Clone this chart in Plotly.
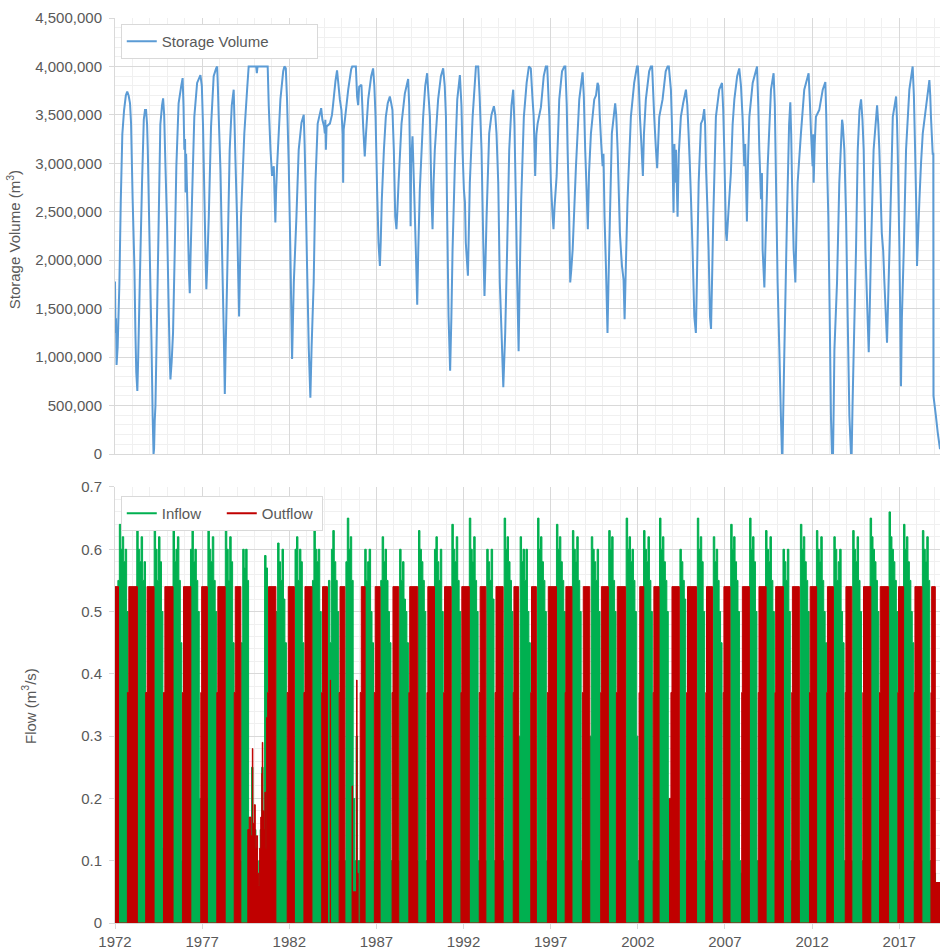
import datetime as dt
import pandas as pd
import plotly.graph_objects as go

# ---------------- data ----------------
# storage volume key points: (decimal year, million m3)
storage_points = [
    (1972.00, 1.78), (1972.03, 1.25), (1972.06, 1.40), (1972.09, 0.92), (1972.15, 1.10), (1972.25, 1.75),
    (1972.33, 2.60), (1972.42, 3.30), (1972.52, 3.55), (1972.62, 3.70), (1972.70, 3.74), (1972.78, 3.70),
    (1972.86, 3.62), (1972.92, 3.41), (1973.01, 2.63), (1973.11, 1.94), (1973.17, 1.25), (1973.22, 0.84),
    (1973.28, 0.65), (1973.33, 1.00), (1973.42, 1.77), (1973.55, 2.80), (1973.65, 3.45), (1973.72, 3.55),
    (1973.78, 3.55), (1973.84, 3.40), (1973.88, 3.14), (1973.99, 2.11), (1974.09, 1.18), (1974.16, 0.39),
    (1974.21, 0.00), (1974.24, 0.05), (1974.28, 0.35), (1974.32, 0.50), (1974.41, 1.42), (1974.51, 2.45),
    (1974.60, 3.40), (1974.70, 3.60), (1974.76, 3.67), (1974.82, 3.50), (1974.89, 3.00), (1974.99, 2.35),
    (1975.08, 1.49), (1975.14, 1.00), (1975.18, 0.77), (1975.25, 0.95), (1975.33, 1.25), (1975.43, 2.11),
    (1975.52, 2.97), (1975.65, 3.62), (1975.80, 3.80), (1975.88, 3.88), (1975.93, 3.60), (1975.98, 3.14),
    (1976.02, 3.25), (1976.05, 2.70), (1976.08, 3.10), (1976.17, 2.45), (1976.24, 1.90), (1976.29, 1.66),
    (1976.33, 2.00), (1976.42, 2.63), (1976.55, 3.48), (1976.71, 3.83), (1976.90, 3.91), (1976.98, 3.80),
    (1977.05, 3.38), (1977.13, 2.63), (1977.20, 2.00), (1977.24, 1.70), (1977.30, 2.00), (1977.38, 2.45),
    (1977.51, 3.38), (1977.66, 3.90), (1977.80, 3.98), (1977.86, 4.00), (1977.90, 3.80), (1977.95, 3.48),
    (1978.05, 2.93), (1978.14, 2.11), (1978.24, 1.25), (1978.30, 0.62), (1978.35, 1.10), (1978.43, 1.77),
    (1978.58, 3.14), (1978.70, 3.60), (1978.81, 3.76), (1978.86, 3.40), (1978.91, 3.04), (1979.00, 2.45),
    (1979.08, 1.77), (1979.12, 1.42), (1979.17, 1.90), (1979.23, 2.45), (1979.42, 3.31), (1979.58, 3.76),
    (1979.67, 4.00), (1980.10, 4.00), (1980.14, 3.93), (1980.18, 4.00), (1980.76, 4.00), (1980.82, 3.60),
    (1980.92, 3.14), (1981.01, 2.87), (1981.11, 2.97), (1981.15, 2.70), (1981.20, 2.39), (1981.24, 2.70),
    (1981.30, 2.97), (1981.49, 3.66), (1981.65, 3.95), (1981.72, 4.00), (1981.80, 3.98), (1981.87, 3.66),
    (1981.97, 2.97), (1982.06, 2.11), (1982.12, 1.42), (1982.16, 0.98), (1982.20, 1.30), (1982.26, 1.77),
    (1982.41, 2.45), (1982.54, 3.14), (1982.70, 3.42), (1982.83, 3.50), (1982.88, 3.20), (1982.93, 2.80),
    (1983.02, 1.94), (1983.12, 1.08), (1983.21, 0.58), (1983.28, 1.10), (1983.40, 1.77), (1983.50, 2.80),
    (1983.63, 3.41), (1983.83, 3.57), (1983.90, 3.45), (1984.00, 3.38), (1984.04, 3.31), (1984.07, 3.45),
    (1984.10, 3.14), (1984.14, 3.38), (1984.33, 3.41), (1984.45, 3.50), (1984.52, 3.62), (1984.65, 3.85),
    (1984.74, 3.96), (1984.80, 3.85), (1984.90, 3.66), (1984.99, 3.55), (1985.06, 3.30), (1985.09, 2.80),
    (1985.12, 3.35), (1985.19, 3.45), (1985.38, 3.76), (1985.55, 3.97), (1985.61, 4.00), (1985.82, 4.00),
    (1985.89, 3.69), (1985.95, 3.60), (1986.01, 3.79), (1986.14, 3.81), (1986.24, 3.38), (1986.33, 3.07),
    (1986.40, 3.30), (1986.53, 3.66), (1986.70, 3.90), (1986.81, 3.98), (1986.88, 3.80), (1986.95, 3.48),
    (1987.04, 2.73), (1987.12, 2.18), (1987.20, 1.94), (1987.25, 2.20), (1987.31, 2.63), (1987.43, 3.14),
    (1987.54, 3.48), (1987.65, 3.62), (1987.77, 3.69), (1987.85, 3.62), (1987.92, 3.55), (1988.00, 3.14),
    (1988.08, 2.45), (1988.15, 2.32), (1988.20, 2.50), (1988.27, 2.80), (1988.44, 3.41), (1988.63, 3.72),
    (1988.82, 3.87), (1988.88, 3.60), (1988.92, 3.14), (1988.96, 2.35), (1988.99, 3.00), (1989.07, 3.28),
    (1989.15, 2.80), (1989.26, 2.11), (1989.34, 1.54), (1989.40, 2.10), (1989.49, 2.73), (1989.68, 3.48),
    (1989.80, 3.80), (1989.91, 3.93), (1989.97, 3.75), (1990.07, 3.48), (1990.16, 2.63), (1990.22, 2.32),
    (1990.28, 2.80), (1990.35, 3.14), (1990.54, 3.66), (1990.70, 3.90), (1990.83, 3.98), (1990.92, 3.80),
    (1990.99, 3.48), (1991.06, 2.45), (1991.14, 1.42), (1991.23, 0.86), (1991.30, 1.40), (1991.37, 2.11),
    (1991.50, 2.97), (1991.64, 3.66), (1991.79, 3.91), (1991.88, 3.60), (1991.94, 3.14), (1992.02, 2.73),
    (1992.08, 2.60), (1992.13, 2.18), (1992.25, 1.84), (1992.36, 2.80), (1992.52, 3.48), (1992.71, 4.00),
    (1992.84, 4.00), (1992.92, 3.70), (1993.03, 3.14), (1993.13, 2.18), (1993.20, 1.63), (1993.26, 2.00),
    (1993.32, 2.45), (1993.47, 3.31), (1993.60, 3.50), (1993.74, 3.59), (1993.82, 3.50), (1993.89, 3.31),
    (1993.99, 2.80), (1994.08, 1.77), (1994.18, 1.25), (1994.28, 0.69), (1994.39, 1.25), (1994.50, 2.11),
    (1994.62, 3.14), (1994.75, 3.60), (1994.85, 3.76), (1994.92, 3.40), (1995.00, 2.63), (1995.08, 1.77),
    (1995.16, 1.06), (1995.22, 1.80), (1995.31, 2.63), (1995.46, 3.48), (1995.62, 3.83), (1995.75, 4.00),
    (1995.86, 3.98), (1995.96, 3.66), (1996.02, 3.50), (1996.05, 3.31), (1996.08, 3.10), (1996.11, 2.87),
    (1996.18, 3.30), (1996.25, 3.41), (1996.44, 3.58), (1996.60, 3.90), (1996.72, 4.00), (1996.80, 4.00),
    (1996.92, 3.48), (1997.01, 2.80), (1997.11, 2.45), (1997.16, 2.32), (1997.22, 2.55), (1997.34, 2.87),
    (1997.49, 3.66), (1997.65, 3.95), (1997.78, 4.00), (1997.84, 4.00), (1997.92, 3.60), (1997.97, 3.14),
    (1998.06, 2.45), (1998.12, 1.77), (1998.18, 1.90), (1998.26, 2.11), (1998.45, 2.97), (1998.64, 3.66),
    (1998.83, 3.94), (1998.90, 3.70), (1998.98, 3.14), (1999.06, 2.73), (1999.13, 2.32), (1999.20, 2.90),
    (1999.31, 3.31), (1999.50, 3.66), (1999.60, 3.70), (1999.69, 3.83), (1999.75, 3.80), (1999.82, 3.48),
    (1999.90, 3.20), (1999.98, 2.97), (2000.03, 3.10), (2000.09, 2.45), (2000.17, 1.94), (2000.26, 1.25),
    (2000.32, 1.80), (2000.40, 2.45), (2000.51, 3.31), (2000.70, 3.62), (2000.76, 3.50), (2000.84, 3.14),
    (2000.97, 2.28), (2001.03, 2.10), (2001.09, 1.94), (2001.18, 1.80), (2001.24, 1.39), (2001.32, 2.00),
    (2001.41, 2.63), (2001.60, 3.48), (2001.79, 3.83), (2001.95, 4.00), (2002.00, 4.00), (2002.06, 3.80),
    (2002.12, 3.48), (2002.20, 3.21), (2002.29, 2.87), (2002.35, 3.30), (2002.46, 3.66), (2002.65, 3.95),
    (2002.75, 4.00), (2002.82, 4.00), (2002.94, 3.48), (2003.04, 3.14), (2003.11, 2.95), (2003.23, 3.48),
    (2003.42, 3.66), (2003.60, 3.95), (2003.71, 4.00), (2003.78, 4.00), (2003.90, 3.76), (2003.96, 3.40),
    (2004.00, 2.97), (2004.05, 2.49), (2004.10, 3.20), (2004.15, 2.80), (2004.19, 3.14), (2004.28, 2.45),
    (2004.35, 3.10), (2004.47, 3.48), (2004.60, 3.62), (2004.76, 3.76), (2004.84, 3.60), (2004.91, 3.31),
    (2004.98, 3.00), (2005.05, 2.63), (2005.14, 2.11), (2005.24, 1.42), (2005.33, 1.25), (2005.40, 1.90),
    (2005.49, 2.80), (2005.62, 3.41), (2005.72, 3.45), (2005.81, 3.56), (2005.86, 3.40), (2005.91, 2.97),
    (2005.98, 2.60), (2006.06, 2.11), (2006.14, 1.42), (2006.20, 1.29), (2006.26, 1.80), (2006.33, 2.45),
    (2006.48, 3.48), (2006.67, 3.76), (2006.83, 3.83), (2006.90, 3.55), (2006.96, 3.14), (2007.02, 2.60),
    (2007.06, 2.28), (2007.10, 2.20), (2007.20, 2.50), (2007.34, 2.90), (2007.44, 3.40), (2007.54, 3.66),
    (2007.70, 3.90), (2007.82, 3.98), (2007.92, 3.80), (2008.01, 3.48), (2008.11, 2.97), (2008.16, 3.20),
    (2008.21, 2.80), (2008.26, 2.40), (2008.32, 3.00), (2008.40, 3.48), (2008.59, 3.83), (2008.84, 4.00),
    (2008.91, 3.60), (2008.97, 3.14), (2009.07, 2.63), (2009.12, 2.90), (2009.16, 2.11), (2009.26, 1.72),
    (2009.33, 2.20), (2009.45, 2.97), (2009.64, 3.76), (2009.79, 3.93), (2009.86, 3.60), (2009.93, 2.80),
    (2010.02, 1.77), (2010.12, 1.08), (2010.21, 0.39), (2010.27, 0.00), (2010.30, 0.00), (2010.34, 0.40),
    (2010.41, 1.08), (2010.56, 2.45), (2010.68, 3.40), (2010.75, 3.63), (2010.80, 3.30), (2010.85, 2.80),
    (2010.94, 2.11), (2011.04, 1.77), (2011.10, 2.30), (2011.17, 2.80), (2011.36, 3.31), (2011.55, 3.76),
    (2011.80, 3.93), (2011.88, 3.60), (2011.94, 3.31), (2012.03, 2.97), (2012.06, 3.30), (2012.09, 2.80),
    (2012.15, 3.20), (2012.22, 3.48), (2012.41, 3.55), (2012.61, 3.76), (2012.76, 3.84), (2012.81, 3.50),
    (2012.86, 2.97), (2012.93, 2.45), (2013.01, 1.42), (2013.08, 0.39), (2013.14, 0.00), (2013.20, 0.00),
    (2013.24, 0.50), (2013.28, 1.08), (2013.43, 1.77), (2013.56, 2.80), (2013.72, 3.45), (2013.76, 3.40),
    (2013.85, 3.14), (2013.95, 2.45), (2014.04, 1.42), (2014.14, 0.39), (2014.23, 0.00), (2014.27, 0.00),
    (2014.32, 0.50), (2014.39, 1.08), (2014.52, 2.11), (2014.62, 3.14), (2014.72, 3.55), (2014.81, 3.66),
    (2014.89, 3.45), (2014.96, 3.14), (2015.06, 2.11), (2015.15, 1.60), (2015.25, 1.05), (2015.31, 1.50),
    (2015.38, 2.11), (2015.53, 3.14), (2015.73, 3.60), (2015.80, 3.40), (2015.86, 3.14), (2016.00, 2.28),
    (2016.08, 2.10), (2016.15, 1.77), (2016.30, 1.15), (2016.38, 1.70), (2016.49, 2.45), (2016.63, 3.48),
    (2016.82, 3.69), (2016.87, 3.45), (2016.91, 3.14), (2017.01, 2.11), (2017.10, 0.70), (2017.15, 1.40),
    (2017.26, 2.11), (2017.39, 3.14), (2017.58, 3.76), (2017.77, 4.00), (2017.84, 3.70), (2017.91, 3.14),
    (2017.97, 2.60), (2018.02, 1.94), (2018.09, 2.30), (2018.16, 2.63), (2018.25, 3.00), (2018.35, 3.31),
    (2018.55, 3.60), (2018.73, 3.86), (2018.78, 3.70), (2018.82, 3.48), (2018.92, 3.10), (2018.955, 3.10),
    (2018.965, 0.60), (2019.10, 0.40), (2019.21, 0.22), (2019.34, 0.05),
]

# monthly inflow (m3/s), January 1972 onwards, one row per year
inflow_monthly = [
    .10, .10, .55, .64, .60, .62, .58, .60, .50, .10, .08, .08,   # 1972
    .08, .08, .10, .64, .60, .58, .62, .55, .58, .12, .08, .08,   # 1973
    .08, .08, .10, .64, .60, .55, .62, .58, .50, .12, .08, .08,   # 1974
    .08, .08, .10, .12, .64, .58, .60, .62, .55, .45, .10, .08,   # 1975
    .08, .08, .10, .10, .60, .63, .58, .60, .55, .50, .20, .08,   # 1976
    .08, .08, .10, .20, .64, .60, .58, .62, .55, .50, .10, .08,   # 1977
    .08, .08, .10, .10, .63, .60, .55, .62, .58, .45, .10, .08,   # 1978
    .08, .10, .10, .45, .60, .57, .60, .55, .15, .12, .25, .15,   # 1979
    .15, .12, .05, .10, .15, .25, .15, .59, .57, .30, .10, .08,   # 1980
    .08, .08, .10, .50, .61, .58, .55, .60, .52, .45, .10, .08,   # 1981
    .08, .08, .10, .10, .60, .62, .55, .60, .58, .45, .10, .08,   # 1982
    .08, .08, .10, .10, .55, .63, .60, .58, .60, .50, .10, .08,   # 1983
    .08, .08, .10, .55, .45, .60, .63, .58, .55, .50, .10, .08,   # 1984
    .08, .08, .10, .58, .65, .60, .62, .55, .20, .10, .30, .10,   # 1985
    .10, .08, .10, .10, .60, .55, .58, .60, .50, .45, .10, .08,   # 1986
    .08, .08, .10, .55, .62, .58, .60, .55, .50, .45, .10, .08,   # 1987
    .08, .08, .10, .10, .60, .55, .58, .52, .50, .45, .10, .08,   # 1988
    .08, .08, .10, .10, .10, .63, .60, .58, .55, .50, .10, .08,   # 1989
    .08, .08, .10, .10, .60, .62, .58, .55, .60, .50, .10, .08,   # 1990
    .08, .08, .10, .10, .64, .60, .58, .62, .55, .50, .10, .08,   # 1991
    .08, .08, .10, .10, .65, .60, .58, .62, .55, .50, .10, .08,   # 1992
    .08, .08, .10, .10, .60, .58, .55, .60, .52, .10, .08, .08,   # 1993
    .08, .08, .10, .10, .65, .60, .62, .58, .55, .50, .10, .08,   # 1994
    .08, .08, .30, .62, .58, .60, .55, .60, .50, .45, .10, .08,   # 1995
    .08, .08, .10, .65, .60, .62, .58, .55, .50, .10, .08, .08,   # 1996
    .08, .08, .10, .10, .64, .60, .62, .58, .55, .50, .10, .08,   # 1997
    .08, .08, .10, .63, .60, .58, .62, .55, .50, .10, .08, .08,   # 1998
    .08, .08, .10, .30, .62, .60, .58, .55, .60, .50, .10, .08,   # 1999
    .08, .08, .10, .10, .63, .60, .62, .55, .50, .10, .08, .08,   # 2000
    .08, .08, .10, .10, .65, .60, .62, .58, .60, .55, .50, .30,   # 2001
    .10, .08, .08, .10, .63, .60, .58, .62, .55, .50, .10, .08,   # 2002
    .08, .08, .10, .65, .60, .62, .58, .55, .50, .20, .10, .08,   # 2003
    .08, .08, .10, .10, .10, .60, .58, .55, .52, .10, .08, .08,   # 2004
    .08, .08, .10, .10, .10, .65, .60, .62, .58, .50, .10, .08,   # 2005
    .08, .08, .10, .10, .62, .58, .60, .55, .50, .45, .10, .08,   # 2006
    .08, .08, .10, .10, .64, .60, .62, .58, .55, .50, .10, .08,   # 2007
    .08, .08, .10, .10, .10, .65, .60, .62, .58, .50, .10, .08,   # 2008
    .08, .08, .10, .10, .63, .60, .58, .62, .55, .50, .10, .08,   # 2009
    .08, .08, .10, .10, .60, .58, .55, .60, .50, .10, .08, .08,   # 2010
    .08, .08, .10, .10, .64, .60, .62, .58, .55, .50, .10, .08,   # 2011
    .08, .08, .10, .63, .60, .58, .62, .55, .50, .45, .10, .08,   # 2012
    .08, .08, .10, .62, .60, .55, .58, .60, .50, .45, .10, .08,   # 2013
    .08, .08, .10, .10, .63, .60, .58, .62, .55, .50, .10, .08,   # 2014
    .08, .08, .10, .10, .65, .62, .60, .58, .55, .50, .10, .08,   # 2015
    .08, .08, .10, .10, .10, .66, .62, .60, .58, .55, .50, .08,   # 2016
    .08, .08, .10, .64, .60, .62, .58, .55, .50, .45, .10, .08,   # 2017
    .08, .08, .10, .10, .63, .60, .58, .62, .55, .10, .08, .08,   # 2018
    .08, .02, .02, .02, .02,                                      # 2019
]

# outflow (m3/s) as a step series: (decimal year when the release changes, new release)
outflow_steps = [
    (1972.00, .54), (1972.20, 0.0),
    (1972.71, .37), (1972.79, .54), (1973.28, 0.0),
    (1973.76, .37), (1973.84, .54), (1974.24, 0.0),
    (1974.78, .37), (1974.86, .54), (1975.33, 0.0),
    (1975.87, .37), (1975.93, .54), (1976.35, 0.0),
    (1976.92, .37), (1976.97, .54), (1977.30, 0.0),
    (1977.84, .37), (1977.90, .54), (1978.32, 0.0),
    (1978.84, .37), (1978.90, .54), (1979.22, 0.0),
    (1979.62, .15), (1979.70, .17), (1979.80, .14), (1979.88, .28), (1979.91, .16), (1980.00, .19),
    (1980.05, .12), (1980.11, .14), (1980.18, .08), (1980.24, .06), (1980.30, .12), (1980.36, .17),
    (1980.42, .24), (1980.45, .29), (1980.48, .18), (1980.55, .15), (1980.60, .21), (1980.65, .12),
    (1980.70, .33), (1980.76, .37), (1980.81, .54), (1981.23, 0.0),
    (1981.88, .37), (1981.94, .54), (1982.29, 0.0),
    (1982.84, .37), (1982.90, .54), (1983.30, 0.0),
    (1983.86, .37), (1983.91, .54), (1984.19, 0.0),
    (1984.35, .39), (1984.37, 0.0),
    (1984.86, .37), (1984.91, .54), (1985.19, 0.0),
    (1985.60, .22), (1985.63, .05), (1985.86, .39), (1985.89, .08), (1985.95, 0.0),
    (1986.07, .37), (1986.13, .54), (1986.35, 0.0),
    (1986.88, .37), (1986.93, .54), (1987.21, 0.0),
    (1987.90, .37), (1987.95, .54), (1988.28, 0.0),
    (1988.86, .37), (1988.91, .54), (1989.37, 0.0),
    (1989.90, .37), (1989.95, .54), (1990.33, 0.0),
    (1990.86, .37), (1990.91, .54), (1991.29, 0.0),
    (1991.85, .37), (1991.90, .54), (1992.33, 0.0),
    (1992.90, .37), (1992.95, .54), (1993.28, 0.0),
    (1993.81, .37), (1993.86, .54), (1994.27, 0.0),
    (1994.85, .37), (1994.89, .54), (1995.16, 0.0),
    (1995.86, .37), (1995.90, .54), (1996.18, 0.0),
    (1996.81, .37), (1996.86, .54), (1997.33, 0.0),
    (1997.83, .37), (1997.87, .54), (1998.22, 0.0),
    (1998.82, .37), (1998.87, .54), (1999.24, 0.0),
    (1999.87, .37), (1999.91, .54), (2000.31, 0.0),
    (2000.77, .37), (2000.82, .54), (2001.30, 0.0),
    (2002.07, .37), (2002.11, .54), (2002.34, 0.0),
    (2002.88, .37), (2002.92, .54), (2003.22, 0.0),
    (2003.82, .20), (2003.90, .37), (2003.96, .54), (2004.38, 0.0),
    (2004.80, .37), (2004.85, .54), (2005.37, 0.0),
    (2005.90, .37), (2005.94, .54), (2006.29, 0.0),
    (2006.90, .37), (2006.94, .54), (2007.29, 0.0),
    (2007.96, .37), (2008.00, .54), (2008.40, 0.0),
    (2008.91, .37), (2008.95, .54), (2009.36, 0.0),
    (2009.87, .37), (2009.91, .54), (2010.35, 0.0),
    (2010.83, .37), (2010.87, .54), (2011.27, 0.0),
    (2011.85, .37), (2011.89, .54), (2012.26, 0.0),
    (2012.84, .37), (2012.88, .54), (2013.22, 0.0),
    (2013.90, .37), (2013.94, .54), (2014.28, 0.0),
    (2014.91, .37), (2014.95, .54), (2015.37, 0.0),
    (2015.87, .37), (2015.91, .54), (2016.39, 0.0),
    (2016.92, .37), (2016.96, .54), (2017.25, 0.0),
    (2017.86, .37), (2017.90, .54), (2018.30, 0.0),
    (2018.82, .37), (2018.86, .54), (2019.07, .065), (2019.34, .065),
]

flow_first_month = "1972-01-01"
x_range = ["1972-01-01", "2019-05-05"]
storage_ticks = [0, 500000, 1000000, 1500000, 2000000, 2500000, 3000000, 3500000, 4000000, 4500000]
flow_ticks = [0, 0.1, 0.2, 0.3, 0.4, 0.5, 0.6, 0.7]


def decimal_year(t):
    y = int(t)
    start = dt.datetime(y, 1, 1)
    end = dt.datetime(y + 1, 1, 1)
    return start + (end - start) * (t - y)


storage_dates = [decimal_year(t) for t, _ in storage_points]
storage_values = [v * 1e6 for _, v in storage_points]
flow_dates = pd.date_range(flow_first_month, periods=len(inflow_monthly), freq="MS")
outflow_dates = [decimal_year(t) for t, _ in outflow_steps]
outflow_values = [v for _, v in outflow_steps]

FONT = "Liberation Sans, Arial, sans-serif"
TXT = "#595959"
MAJOR = "#d9d9d9"
MINOR = "#f0f0f0"
BLUE = "#5b9bd5"
GREEN = "#00b050"
RED = "#c00000"

fig = go.Figure()
fig.add_trace(go.Scatter(
    x=storage_dates, y=storage_values, mode="lines", name="Storage Volume",
    line=dict(color=BLUE, width=2, simplify=False), xaxis="x", yaxis="y", legend="legend"))
fig.add_trace(go.Scatter(
    x=flow_dates, y=inflow_monthly, mode="lines", name="Inflow", showlegend=False,
    line=dict(color=GREEN, width=1, shape="hv", simplify=False), fill="tozeroy", fillcolor=GREEN,
    xaxis="x2", yaxis="y2"))
fig.add_trace(go.Scatter(
    x=outflow_dates, y=outflow_values, mode="lines", name="Outflow", showlegend=False,
    line=dict(color=RED, width=1, shape="hv", simplify=False), fill="tozeroy", fillcolor=RED,
    xaxis="x2", yaxis="y2"))
# legend entries drawn as plain lines (like the reference legend)
fig.add_trace(go.Scatter(x=[None], y=[None], mode="lines", name="Inflow",
                         line=dict(color=GREEN, width=2), xaxis="x2", yaxis="y2", legend="legend2"))
fig.add_trace(go.Scatter(x=[None], y=[None], mode="lines", name="Outflow",
                         line=dict(color=RED, width=2), xaxis="x2", yaxis="y2", legend="legend2"))

xcommon = dict(type="date", range=x_range, tick0="1972-01-01", dtick="M60",
               showgrid=True, gridcolor=MAJOR, gridwidth=1,
               minor=dict(dtick="M12", tick0="1972-01-01", showgrid=True, gridcolor=MINOR, gridwidth=1),
               showline=True, linecolor=MAJOR, linewidth=1, zeroline=False,
               tickfont=dict(family=FONT, size=15, color=TXT))

fig.update_layout(
    width=941, height=951,
    margin=dict(l=115, r=1, t=18, b=26),
    paper_bgcolor="white", plot_bgcolor="white",
    font=dict(family=FONT, size=15, color=TXT),
    xaxis=dict(**xcommon, anchor="y", matches="x2", showticklabels=False, ticks=""),
    xaxis2=dict(**xcommon, anchor="y2", ticks="outside", ticklen=5, tickcolor=MAJOR,
                tickformat="%Y"),
    yaxis=dict(domain=[0.5182, 1.0], range=[0, 4500000], tickvals=storage_ticks,
               tickformat=",d", showgrid=True, gridcolor=MAJOR,
               minor=dict(dtick=100000, showgrid=True, gridcolor=MINOR),
               showline=True, linecolor=MAJOR, zeroline=False,
               ticks="outside", ticklen=5, tickcolor=MAJOR, ticklabelstandoff=4,
               tickfont=dict(family=FONT, size=15, color=TXT)),
    yaxis2=dict(domain=[0.0, 0.4818], range=[0, 0.7], tickvals=flow_ticks,
                showgrid=True, gridcolor=MAJOR,
                minor=dict(dtick=0.02, showgrid=True, gridcolor=MINOR),
                showline=True, linecolor=MAJOR, zeroline=False,
                ticks="outside", ticklen=5, tickcolor=MAJOR, ticklabelstandoff=4,
                tickfont=dict(family=FONT, size=15, color=TXT)),
    legend=dict(x=0.007, y=0.9934, xanchor="left", yanchor="top", orientation="h",
                bgcolor="white", bordercolor=MAJOR, borderwidth=1,
                entrywidth=150, font=dict(family=FONT, size=15, color=TXT)),
    legend2=dict(x=0.007, y=0.4719, xanchor="left", yanchor="top", orientation="h",
                 bgcolor="white", bordercolor=MAJOR, borderwidth=1,
                 entrywidth=55, font=dict(family=FONT, size=15, color=TXT)),
    annotations=[
        dict(text="Storage Volume (m<sup>3</sup>)", textangle=-90, xref="paper", yref="paper",
             x=-0.123, y=0.755, xanchor="center", yanchor="middle", showarrow=False,
             font=dict(family=FONT, size=15, color=TXT)),
        dict(text="Flow (m<sup>3</sup>/s)", textangle=-90, xref="paper", yref="paper",
             x=-0.104, y=0.24, xanchor="center", yanchor="middle", showarrow=False,
             font=dict(family=FONT, size=15, color=TXT)),
    ],
    showlegend=True,
)

fig.write_html("out.html")
